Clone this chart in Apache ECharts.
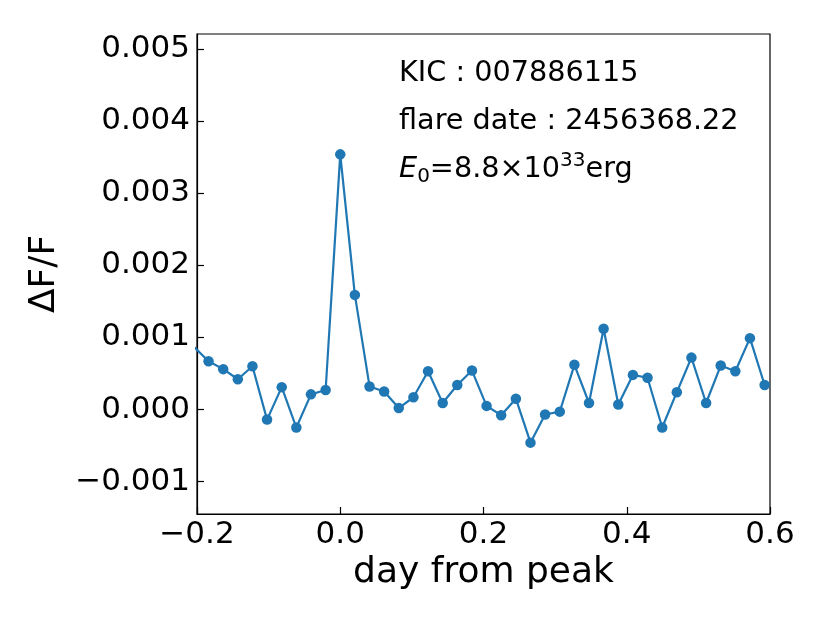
<!DOCTYPE html>
<html>
<head>
<meta charset="utf-8">
<script src="https://cdn.jsdelivr.net/npm/echarts@6/dist/echarts.min.js"></script>
<style>
  html, body { margin: 0; padding: 0; background: #fff; }
  #chart { width: 830px; height: 623px; }
</style>
</head>
<body>
<div id="chart"></div>
<script>
// time from peak (days), one point per Kepler long cadence
var days = [
    -0.2043, -0.1839, -0.1634, -0.1430, -0.1226, -0.1022, -0.0817, -0.0613, -0.0409, -0.0204,
    0.0000, 0.0204, 0.0409, 0.0613, 0.0817, 0.1022, 0.1226, 0.1430, 0.1634, 0.1839,
    0.2043, 0.2247, 0.2452, 0.2656, 0.2860, 0.3065, 0.3269, 0.3473, 0.3677, 0.3882,
    0.4086, 0.4290, 0.4495, 0.4699, 0.4903, 0.5108, 0.5312, 0.5516, 0.5720, 0.5925
];
// relative flux dF/F
var fluxes = [
    0.00087, 0.00067, 0.00056, 0.00042, 0.00060, -0.00014, 0.00031, -0.00025, 0.00021, 0.00027,
    0.00354, 0.00159, 0.00032, 0.00025, 0.00002, 0.00017, 0.00053, 0.00009, 0.00034, 0.00054,
    0.00005, -0.00008, 0.00015, -0.00046, -0.00007, -0.00003, 0.00062, 0.00009, 0.00112, 0.00007,
    0.00048, 0.00044, -0.00025, 0.00024, 0.00072, 0.00009, 0.00061, 0.00053, 0.00099, 0.00034
];
var xTicks = [-0.2, 0.0, 0.2, 0.4, 0.6];
var yTicks = [-0.001, 0.000, 0.001, 0.002, 0.003, 0.004, 0.005];

var infoLines = ["KIC : 007886115", "flare date : 2456368.22"];

var chart = echarts.init(document.getElementById("chart"));

var points = [];
for (var i = 0; i < days.length; i++) {
    points.push([days[i], fluxes[i]]);
}

function fmt(v, d) {
    return v.toFixed(d).replace("-", "\u2212");
}

var font = "DejaVu Sans";

var option = {
    backgroundColor: "#fff",
    animation: false,
    grid: {
        left: 197, top: 34, right: 60, bottom: 109,
        show: true, borderColor: "#000", borderWidth: 1.2
    },
    xAxis: {
        type: "value",
        min: -0.2, max: 0.6,
        name: "day from peak",
        nameLocation: "middle",
        nameGap: 40,
        nameTextStyle: { fontFamily: font, fontSize: 36, color: "#000" },
        splitLine: { show: false },
        axisLine: { show: true, onZero: false, lineStyle: { color: "#000", width: 1.2 } },
        axisTick: { show: true, inside: true, length: 7, lineStyle: { color: "#000", width: 1.2 }, customValues: xTicks },
        axisLabel: {
            fontFamily: font, fontSize: 31, color: "#000", margin: 5,
            customValues: xTicks,
            formatter: function (v) { return fmt(v, 1); }
        }
    },
    yAxis: {
        type: "value",
        min: -0.00145, max: 0.00521,
        name: "\u0394F/F",
        nameLocation: "middle",
        nameGap: 134,
        nameTextStyle: { fontFamily: font, fontSize: 36, color: "#000" },
        splitLine: { show: false },
        axisLine: { show: true, onZero: false, lineStyle: { color: "#000", width: 1.2 } },
        axisTick: { show: true, inside: true, length: 7, lineStyle: { color: "#000", width: 1.2 }, customValues: yTicks },
        axisLabel: {
            fontFamily: font, fontSize: 31, color: "#000", margin: 7,
            customValues: yTicks,
            formatter: function (v) { return fmt(v, 3); }
        }
    },
    graphic: [
        {
            type: "text", left: 399, top: 59,
            style: { text: infoLines[0], fontFamily: font, fontSize: 28.7, fill: "#000" }
        },
        {
            type: "text", left: 399, top: 107,
            style: { text: infoLines[1], fontFamily: font, fontSize: 28.7, fill: "#000" }
        },
        {
            type: "text", left: 399, top: 149,
            style: {
                text: "{it|E}{sub|0}{n|=8.8\u00d710}{sup|33}{n|erg}",
                fontFamily: font, fill: "#000",
                rich: {
                    it: { fontFamily: font, fontSize: 28.7, fontStyle: "italic", lineHeight: 42, verticalAlign: "middle" },
                    n: { fontFamily: font, fontSize: 28.7, lineHeight: 42, verticalAlign: "middle" },
                    sub: { fontFamily: font, fontSize: 20, lineHeight: 42, verticalAlign: "bottom", padding: [0, 0, 4, 0] },
                    sup: { fontFamily: font, fontSize: 20, lineHeight: 42, verticalAlign: "top", padding: [2, 0, 0, 0] }
                }
            }
        }
    ],
    series: [{
        type: "line",
        data: points,
        clip: true,
        symbol: "circle",
        symbolSize: 10.5,
        showAllSymbol: true,
        lineStyle: { color: "#1f77b4", width: 2.2 },
        itemStyle: { color: "#1f77b4" },
        z: 3
    }]
};
chart.setOption(option);
</script>
</body>
</html>
